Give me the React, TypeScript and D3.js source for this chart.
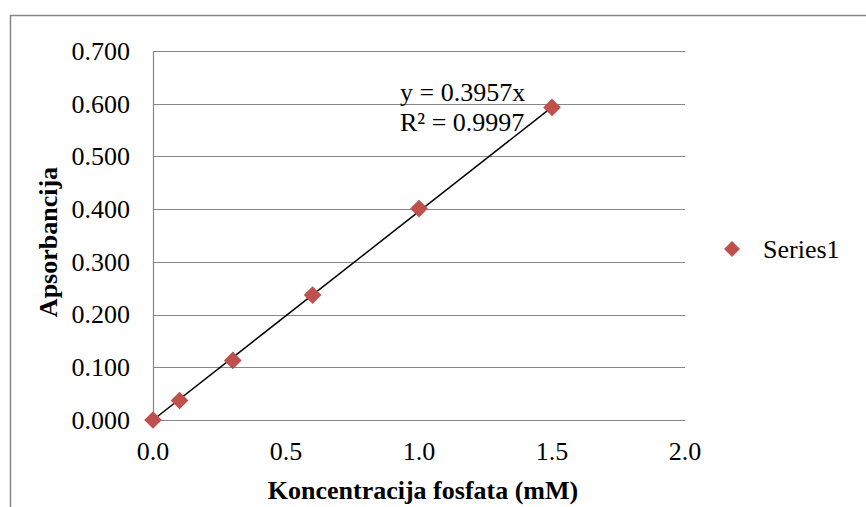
import React, { useEffect, useRef } from 'react';
import * as d3 from 'd3';

// data
const concentrations = [0, 0.1, 0.3, 0.6, 1.0, 1.5];
const absorbances = [0, 0.037, 0.113, 0.237, 0.401, 0.593];
const slope = 0.3957;
const rSquared = '0.9997';
const yTicks = [0, 0.1, 0.2, 0.3, 0.4, 0.5, 0.6, 0.7];
const xTicks = [0, 0.5, 1.0, 1.5, 2.0];
const seriesName = 'Series1';

const W = 866;
const H = 507;
const FONT = 'Liberation Serif, Times New Roman, serif';
const FS = 26;
const RED = '#C0504D';
const GRID = '#878787';

const App: React.FC = () => {
  const svgRef = useRef<SVGSVGElement>(null);

  useEffect(() => {
    if (!svgRef.current) return;
    const svg = d3.select(svgRef.current);
    svg.selectAll('*').remove();

    // outer chart border (cropped at right/bottom)
    svg.append('rect')
      .attr('x', 10.5).attr('y', 15.5)
      .attr('width', W + 10).attr('height', H + 10)
      .attr('fill', 'white').attr('stroke', GRID).attr('stroke-width', 1.5);

    const x = d3.scaleLinear().domain([0, 2]).range([153, 685]);
    const y = d3.scaleLinear().domain([0, 0.7]).range([420, 51]);

    // horizontal gridlines
    svg.append('g')
      .selectAll('line')
      .data(yTicks)
      .join('line')
      .attr('x1', x(0)).attr('x2', x(2))
      .attr('y1', d => Math.round(y(d)) + 0.5).attr('y2', d => Math.round(y(d)) + 0.5)
      .attr('stroke', GRID).attr('stroke-width', 1.2);

    // y axis line
    svg.append('line')
      .attr('x1', x(0) + 0.5).attr('x2', x(0) + 0.5)
      .attr('y1', y(0.7)).attr('y2', y(0) + 1)
      .attr('stroke', GRID).attr('stroke-width', 1.2);

    // y tick labels
    svg.append('g')
      .selectAll('text')
      .data(yTicks)
      .join('text')
      .attr('x', 130).attr('y', d => y(d))
      .attr('dy', '0.34em')
      .attr('text-anchor', 'end')
      .attr('font-family', FONT).attr('font-size', FS)
      .text(d => d3.format('.3f')(d));

    // x tick labels
    svg.append('g')
      .selectAll('text')
      .data(xTicks)
      .join('text')
      .attr('x', d => x(d)).attr('y', 460)
      .attr('text-anchor', 'middle')
      .attr('font-family', FONT).attr('font-size', FS)
      .text(d => d3.format('.1f')(d));

    // axis titles
    svg.append('text')
      .attr('x', 423).attr('y', 499)
      .attr('text-anchor', 'middle')
      .attr('font-family', FONT).attr('font-size', FS).attr('font-weight', 'bold')
      .text('Koncentracija fosfata (mM)');

    svg.append('text')
      .attr('transform', 'translate(57, 242) rotate(-90)')
      .attr('text-anchor', 'middle')
      .attr('font-family', FONT).attr('font-size', FS).attr('font-weight', 'bold')
      .text('Apsorbancija');

    // linear trendline through origin
    const xMax = d3.max(concentrations) || 1.5;
    svg.append('line')
      .attr('x1', x(0)).attr('y1', y(0))
      .attr('x2', x(xMax)).attr('y2', y(slope * xMax))
      .attr('stroke', 'black').attr('stroke-width', 1.5);

    // markers
    const diamond = d3.symbol().type(d3.symbolDiamond2).size(200);
    svg.append('g')
      .selectAll('path')
      .data(concentrations.map((c, i) => [c, absorbances[i]]))
      .join('path')
      .attr('d', diamond)
      .attr('transform', d => `translate(${x(d[0])},${y(d[1])})`)
      .attr('fill', RED);

    // trendline equation
    svg.append('text')
      .attr('x', 400).attr('y', 101)
      .attr('font-family', FONT).attr('font-size', FS)
      .text(`y = ${slope}x`);
    svg.append('text')
      .attr('x', 400).attr('y', 131)
      .attr('font-family', FONT).attr('font-size', FS)
      .text(`R² = ${rSquared}`);

    // legend
    svg.append('path')
      .attr('d', d3.symbol().type(d3.symbolDiamond2).size(160))
      .attr('transform', 'translate(732,249)')
      .attr('fill', RED);
    svg.append('text')
      .attr('x', 763).attr('y', 258)
      .attr('font-family', FONT).attr('font-size', FS)
      .text(seriesName);
  }, []);

  return (
    <svg
      ref={svgRef}
      width={W}
      height={H}
      style={{ position: 'absolute', left: 0, top: 0, background: 'white' }}
    />
  );
};

export default App;
